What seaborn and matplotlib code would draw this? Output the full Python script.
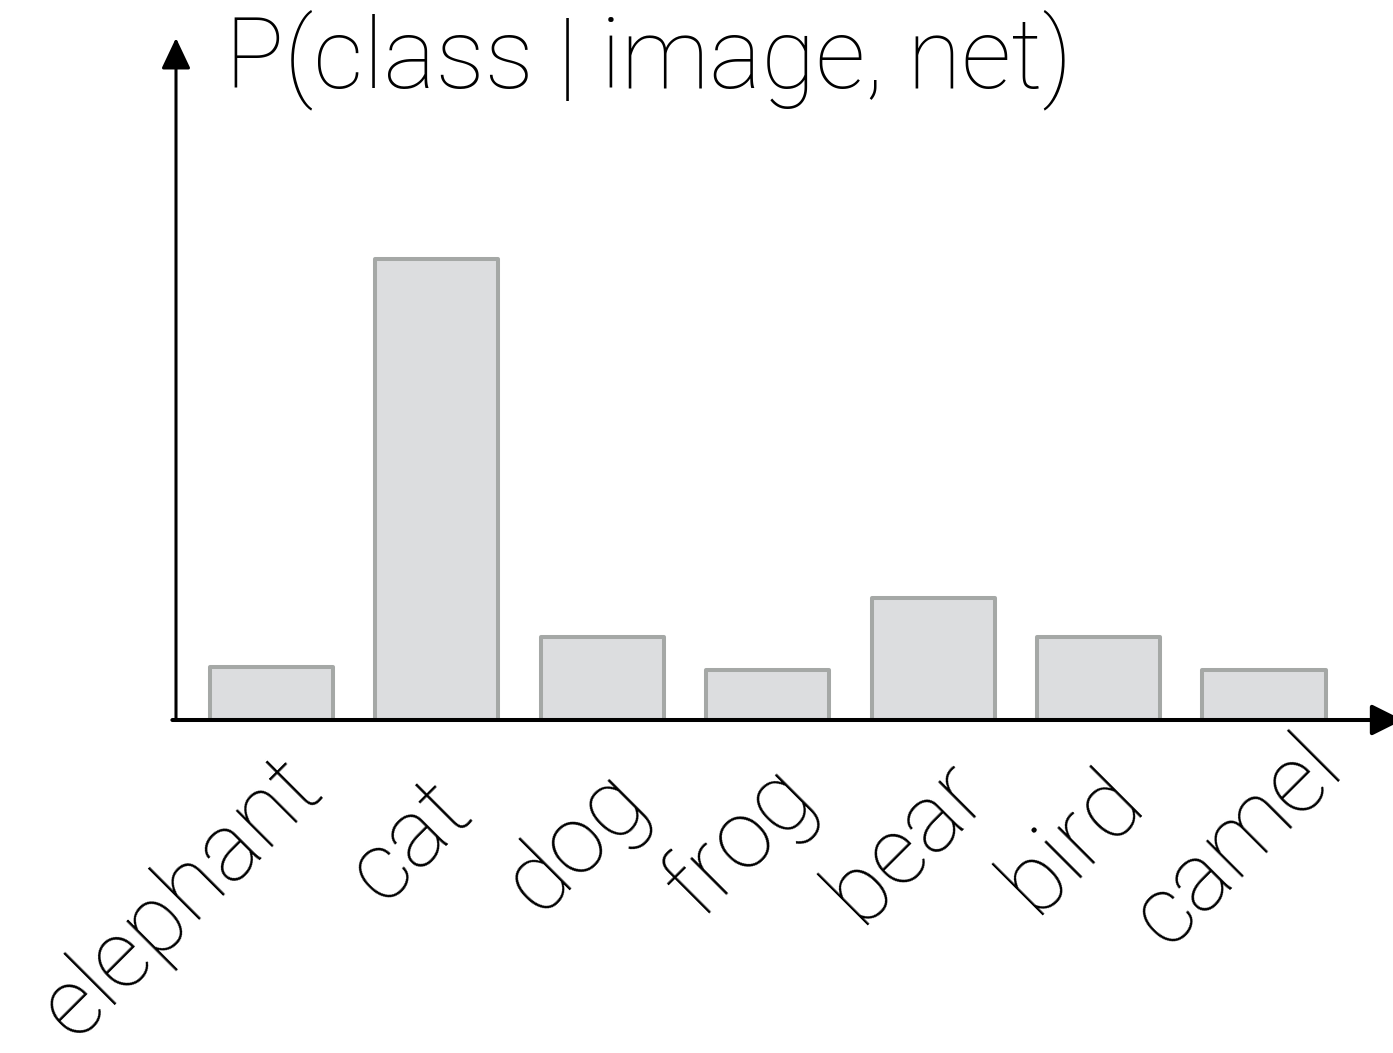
import matplotlib
matplotlib.use("Agg")
import matplotlib.pyplot as plt
import matplotlib.transforms as mtransforms
import seaborn as sns
import pandas as pd

categories = ["elephant", "cat", "dog", "frog", "bear", "bird", "camel"]
probabilities = [0.059, 0.511, 0.092, 0.055, 0.135, 0.092, 0.055]
title_text = "P(class | image, net)"

sns.set_theme(style="white")
plt.rcParams["font.family"] = ["Roboto", "DejaVu Sans"]

W, H = 1393, 1053
fig = plt.figure(figsize=(W / 100, H / 100), dpi=100)
ax = fig.add_axes([176 / W, 333 / H, (W - 176) / W, 682 / H])

df = pd.DataFrame({"category": categories, "p": probabilities})
sns.barplot(data=df, x="category", y="p", ax=ax, width=0.745,
            color="#dcdddf", saturation=1, edgecolor="#a5a8a6", linewidth=2.9)
for patch in ax.patches:
    patch.set_joinstyle("round")
    patch.set_facecolor("#dcdddf")

ax.set_xlim(-0.577, 6.78)
ax.set_ylim(0, 0.756)
for s in ax.spines.values():
    s.set_visible(False)
ax.set_xlabel("")
ax.set_ylabel("")
ax.set_yticks([])
ax.tick_params(axis="x", length=0, pad=0)

# label placement offsets (pixels, right / down) relative to the tick position
label_shift = {"elephant": (-72, 196)}
default_shift = (-8, 140)
for lab in ax.get_xticklabels():
    lab.set_rotation(45)
    lab.set_ha("center")
    lab.set_va("baseline")
    lab.set_rotation_mode("anchor")
    lab.set_fontsize(69)
    lab.set_fontweight("light")
    lab.set_color("black")
    dx, dy = label_shift.get(lab.get_text(), default_shift)
    off = mtransforms.ScaledTranslation(dx / 100, -dy / 100, fig.dpi_scale_trans)
    lab.set_transform(lab.get_transform() + off)

# axis arrows
ax.annotate("", xy=(0, 1.0), xytext=(0, 0), xycoords="axes fraction",
            textcoords="axes fraction",
            arrowprops=dict(arrowstyle="-|>,head_length=1.9,head_width=0.9",
                            mutation_scale=10, lw=2.2, color="black",
                            shrinkA=0, shrinkB=0), annotation_clip=False)
ax.annotate("", xy=(1.008, 0), xytext=(-0.003, 0), xycoords="axes fraction",
            textcoords="axes fraction",
            arrowprops=dict(arrowstyle="-|>,head_length=1.9,head_width=0.95",
                            mutation_scale=10, lw=2.9, color="black",
                            shrinkA=0, shrinkB=0), annotation_clip=False)

fig.text(225 / W, (H - 87) / H, title_text, fontsize=71, fontweight="light",
         ha="left", va="baseline", color="black")

fig.savefig("out.png", dpi=100)
